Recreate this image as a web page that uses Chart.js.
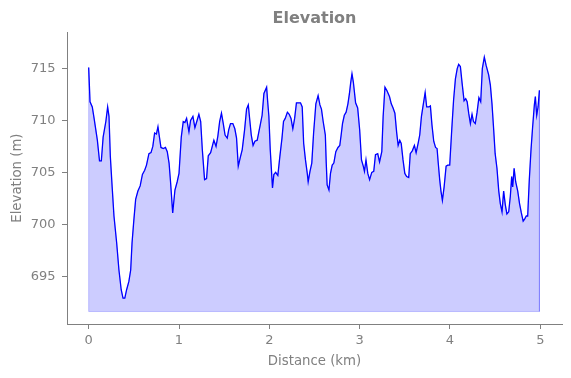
<!DOCTYPE html>
<html>
<head>
<meta charset="utf-8">
<script src="https://cdn.jsdelivr.net/npm/chart.js@4"></script>
<style>
  html, body { margin: 0; padding: 0; background: #fff; }
  #wrap { width: 571px; height: 378px; }
</style>
</head>
<body>
<div id="wrap"><canvas id="elevationChart" width="571" height="378"></canvas></div>
<script>
// distance along the route (km) and elevation (m)
const distanceKm = [
  0.00, 0.015, 0.04, 0.06, 0.096, 0.12, 0.14, 0.16, 0.19, 0.21, 0.225, 0.24, 0.26, 0.28, 0.31, 0.335,
  0.36, 0.38, 0.40, 0.42, 0.445, 0.465, 0.48, 0.50, 0.52, 0.545, 0.57, 0.595, 0.62, 0.64, 0.667, 0.69,
  0.71, 0.73, 0.75, 0.767, 0.78, 0.80, 0.826, 0.85, 0.87, 0.89, 0.907, 0.93, 0.955, 0.98, 1.00,
  1.025, 1.047, 1.065, 1.084, 1.11, 1.128, 1.154, 1.176, 1.20, 1.22, 1.24, 1.258, 1.283, 1.305, 1.324,
  1.35, 1.368, 1.386, 1.41, 1.43, 1.45, 1.47, 1.49, 1.51, 1.534, 1.55, 1.57, 1.596, 1.618, 1.637, 1.656,
  1.68, 1.70, 1.726, 1.748, 1.767, 1.784, 1.80, 1.82, 1.84, 1.866, 1.884, 1.90, 1.92, 1.94, 1.97, 1.98,
  1.995, 2.01, 2.035, 2.05, 2.07, 2.094, 2.116, 2.14, 2.157, 2.176, 2.20, 2.22, 2.24, 2.26, 2.28, 2.30,
  2.32, 2.345, 2.364, 2.38, 2.40, 2.42, 2.43, 2.45, 2.47, 2.49, 2.515, 2.54, 2.56, 2.577, 2.596, 2.62,
  2.63, 2.64, 2.66, 2.677, 2.696, 2.714, 2.736, 2.76, 2.78, 2.795, 2.81, 2.83, 2.85, 2.87, 2.887, 2.90,
  2.915, 2.93, 2.955, 2.978, 3.00, 3.02, 3.04, 3.053, 3.07, 3.09, 3.11, 3.134, 3.156, 3.175, 3.20, 3.22,
  3.245, 3.26, 3.28, 3.30, 3.33, 3.35, 3.37, 3.39, 3.41, 3.426, 3.444, 3.46, 3.48, 3.50, 3.52, 3.543,
  3.56, 3.584, 3.606, 3.625, 3.647, 3.665, 3.684, 3.70, 3.725, 3.742, 3.765, 3.783, 3.80, 3.82, 3.84, 3.857,
  3.87, 3.886, 3.90, 3.916, 3.935, 3.957, 3.975, 3.997, 4.02, 4.04, 4.06, 4.08, 4.096, 4.115, 4.134, 4.156,
  4.174, 4.19, 4.207, 4.226, 4.244, 4.26, 4.28, 4.30, 4.32, 4.34, 4.358, 4.38, 4.40, 4.428, 4.447, 4.465,
  4.483, 4.50, 4.52, 4.54, 4.557, 4.576, 4.594, 4.612, 4.63, 4.65, 4.668, 4.683, 4.694, 4.71, 4.727, 4.75,
  4.77, 4.79, 4.81, 4.826, 4.845, 4.86, 4.878, 4.897, 4.915, 4.934, 4.945, 4.96, 4.975, 4.99
];
const elevationM = [
  715.1, 711.8, 711.3, 710.2, 708.1, 706.1, 706.1, 708.4, 709.9, 711.3, 710.4, 706.5, 703.6, 700.8, 698.2, 695.6,
  693.7, 692.9, 692.9, 693.7, 694.5, 695.6, 698.2, 700.4, 702.4, 703.2, 703.7, 704.8, 705.2, 705.7, 706.8, 706.9,
  707.5, 708.8, 708.7, 709.4, 708.6, 707.4, 707.3, 707.4, 707.0, 705.9, 704.0, 701.1, 703.3, 704.1, 704.9,
  708.4, 709.9, 709.8, 710.2, 708.9, 710.0, 710.4, 709.3, 710.0, 710.6, 709.9, 707.2, 704.3, 704.4, 706.6,
  706.9, 707.5, 708.1, 707.5, 708.5, 709.9, 710.7, 709.7, 708.6, 708.3, 709.1, 709.7, 709.7, 709.2, 708.3, 705.6,
  706.5, 707.2, 709.1, 711.1, 711.5, 710.0, 708.6, 707.6, 708.0, 708.1, 708.9, 709.6, 710.5, 712.6, 713.2, 712.0,
  710.4, 707.2, 703.5, 704.8, 705.0, 704.7, 706.5, 708.3, 709.9, 710.2, 710.8, 710.6, 710.2, 709.2, 710.2, 711.7,
  711.7, 711.7, 711.3, 707.8, 706.2, 704.9, 704.1, 705.1, 705.9, 708.8, 711.6, 712.4, 711.5, 711.1, 709.9, 708.6,
  705.9, 703.8, 703.3, 704.9, 705.7, 705.9, 707.0, 707.4, 707.6, 708.6, 709.7, 710.5, 710.8, 711.6, 712.6, 713.6,
  714.5, 713.7, 711.7, 711.2, 709.1, 706.2, 705.6, 705.1, 706.2, 704.9, 704.3, 705.0, 705.1, 706.7, 706.8, 706.0,
  707.0, 710.4, 713.2, 712.9, 712.3, 711.6, 711.2, 710.7, 708.8, 707.6, 708.1, 707.8, 706.2, 704.9, 704.6, 704.5,
  706.8, 707.1, 707.6, 706.9, 707.8, 708.6, 710.4, 711.3, 712.7, 711.3, 711.3, 711.4, 709.6, 708.0, 707.4, 707.3,
  705.9, 704.3, 703.2, 702.3, 703.6, 705.6, 705.7, 705.7, 709.2, 712.0, 714.0, 715.0, 715.4, 715.2, 713.6, 711.9,
  712.1, 711.8, 710.7, 709.7, 710.6, 709.9, 709.7, 710.8, 712.2, 711.8, 715.0, 716.1, 715.3, 714.4, 713.4, 711.6,
  709.2, 706.8, 705.4, 703.2, 702.0, 701.2, 703.2, 701.9, 701.0, 701.2, 702.7, 704.6, 703.6, 705.4, 704.1, 703.2,
  702.0, 701.1, 700.3, 700.5, 700.8, 700.8, 704.3, 707.2, 709.4, 711.5, 712.3, 710.5, 711.3, 712.9
];
const fillBase = 691.6; // bottom of the shaded area

const xTicks = [0, 1, 2, 3, 4, 5];
const yTicks = [695, 700, 705, 710, 715];

const grey = '#808080';
const tickFont = { family: 'DejaVu Sans', size: 13 };
const labelFont = { family: 'DejaVu Sans', size: 13.3 };

const profile = distanceKm.map((d, i) => ({ x: d, y: elevationM[i] }));
const last = distanceKm[distanceKm.length - 1];
// closed outline for the shaded area, like fill_between
const shade = [{ x: 0, y: fillBase }, ...profile, { x: last, y: fillBase }, { x: 0, y: fillBase }];

const ctx = document.getElementById('elevationChart');

const chart = new Chart(ctx, {
    type: 'line',
    data: {
        datasets: [
            {
                label: 'Elevation',
                data: profile,
                borderColor: '#0000ff',
                borderWidth: 1.3,
                pointRadius: 0,
                tension: 0,
                fill: false,
                order: 0
            },
            {
                label: 'area',
                data: shade,
                borderColor: 'rgba(0,0,255,0.2)',
                backgroundColor: 'rgba(0,0,255,0.2)',
                borderWidth: 1,
                pointRadius: 0,
                tension: 0,
                fill: 'shape',
                order: 1
            }
        ]
    },
    options: {
        responsive: false,
        animation: false,
        layout: { padding: { left: 0, right: 9, top: 0, bottom: 0 } },
        plugins: {
            legend: { display: false },
            tooltip: { enabled: false },
            title: {
                display: true,
                text: 'Elevation',
                color: grey,
                fullSize: false,
                font: { family: 'DejaVu Sans', size: 16, weight: 'bold' },
                padding: { top: 9, bottom: 4 }
            }
        },
        scales: {
            x: {
                type: 'linear',
                min: -0.24,
                max: 5.24,
                afterBuildTicks: s => { s.ticks = xTicks.map(v => ({ value: v })); },
                afterFit: s => { s.height = 54; },
                grid: { drawOnChartArea: false, drawTicks: true, tickLength: 5, color: grey },
                border: { color: grey },
                ticks: { color: grey, font: tickFont, padding: 4, maxRotation: 0 },
                title: { display: true, text: 'Distance (km)', color: grey, font: labelFont, padding: { top: 0, bottom: 8.5 } }
            },
            y: {
                min: 690.4,
                max: 718.5,
                afterBuildTicks: s => { s.ticks = yTicks.map(v => ({ value: v })); },
                afterFit: s => { s.width = 67; },
                grid: { drawOnChartArea: false, drawTicks: true, tickLength: 5, color: grey },
                border: { color: grey },
                ticks: { color: grey, font: tickFont, padding: 6.5 },
                title: { display: true, text: 'Elevation (m)', color: grey, font: labelFont, padding: { top: 9.5, bottom: 0 } }
            }
        }
    }
});
</script>
</body>
</html>
